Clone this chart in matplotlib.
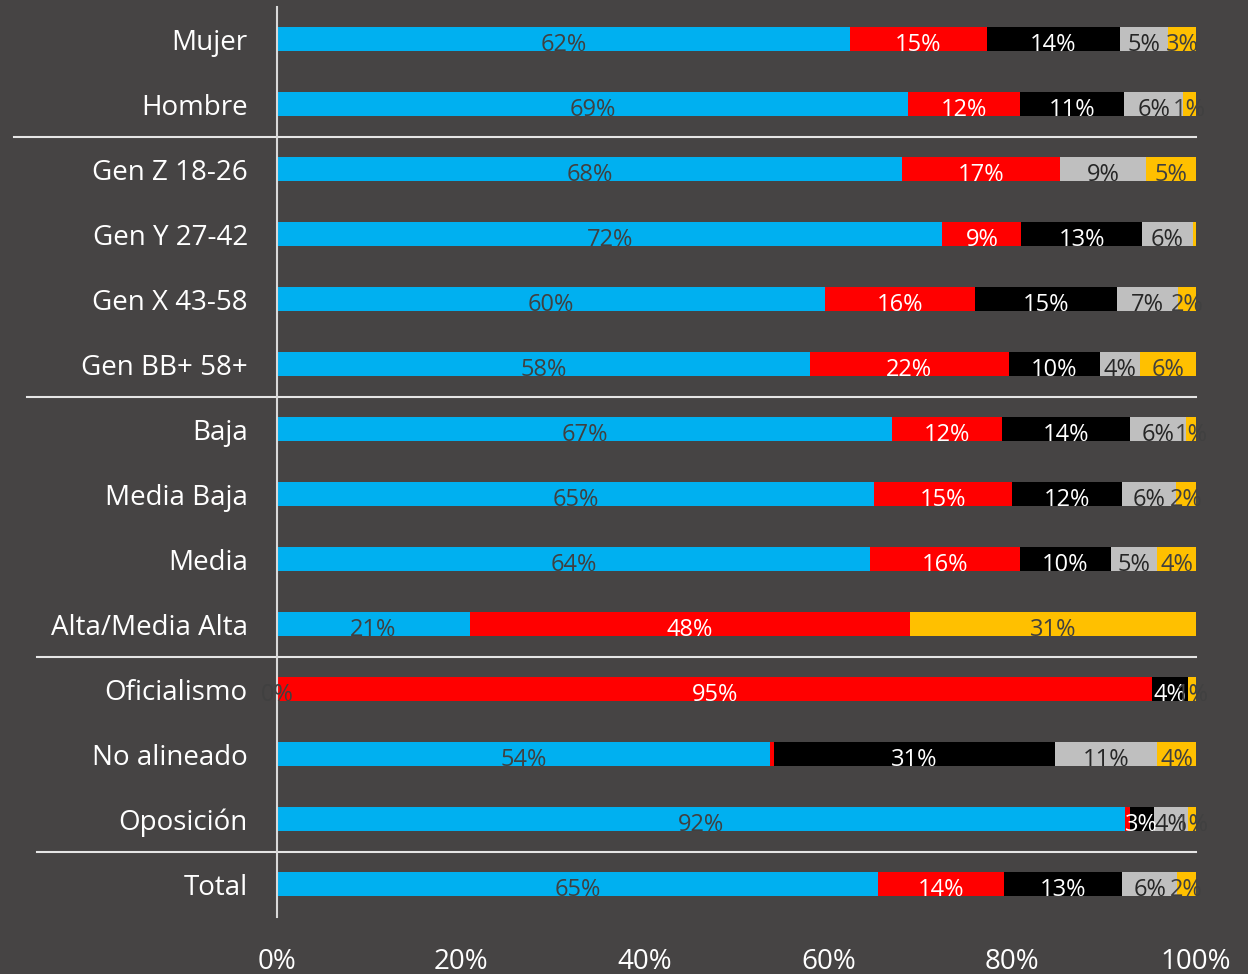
import matplotlib
matplotlib.use("Agg")
import matplotlib.pyplot as plt
import numpy as np

categories = ["Mujer", "Hombre", "Gen Z 18-26", "Gen Y 27-42", "Gen X 43-58",
              "Gen BB+ 58+", "Baja", "Media Baja", "Media", "Alta/Media Alta",
              "Oficialismo", "No alineado", "Oposición", "Total"]

blue   = [62.3, 68.7, 68.0, 72.4, 59.6, 58.0, 66.9, 65.0, 64.5, 21.0, 0.1, 53.6, 92.3, 65.4]
red    = [15.0, 12.2, 17.2,  8.6, 16.4, 21.6, 12.0, 15.0, 16.3, 47.9, 95.1, 0.45, 0.5, 13.7]
black  = [14.4, 11.3,  0.0, 13.1, 15.4, 10.0, 13.9, 12.0, 10.0,  0.0,  3.9, 30.6, 2.6, 12.9]
gray   = [ 5.3,  6.4,  9.4,  5.6,  6.6,  4.3,  6.1,  5.8,  5.0,  0.0,  0.0, 11.1, 3.7,  5.9]
yellow = [ 3.0,  1.4,  5.4,  0.3,  2.0,  6.1,  1.1,  2.2,  4.2, 31.1,  0.9,  4.3, 0.9,  2.1]

xticks = [0, 20, 40, 60, 80, 100]
xtick_labels = ["0%", "20%", "40%", "60%", "80%", "100%"]

# labels not displayed in the original (row, series index)
hidden_labels = {(3, 4), (11, 1), (12, 1)}

series = [blue, red, black, gray, yellow]
colors = ["#00B0F0", "#FF0000", "#000000", "#BFBFBF", "#FFC000"]
label_colors = ["#404040", "#FFFFFF", "#FFFFFF", "#262626", "#404040"]

bg = "#464444"
plt.rcParams['font.family'] = ['Open Sans', 'DejaVu Sans']

fig = plt.figure(figsize=(12.48, 9.74), dpi=100, facecolor=bg)
ax = fig.add_axes([277/1248, 1 - 916.5/974, 919/1248, 910/974])
ax.set_facecolor(bg)

y = np.arange(len(categories))
left = np.zeros(len(categories))
for si, (vals, col) in enumerate(zip(series, colors)):
    vals = np.array(vals)
    ax.barh(y, vals, left=left, height=0.37, color=col, edgecolor='none')
    for i, v in enumerate(vals):
        if v <= 0 or (i, si) in hidden_labels:
            continue
        ax.text(left[i] + v / 2, y[i] + 0.09, f"{v:.0f}%", ha='center', va='center',
                fontsize=17, color=label_colors[si])
    left = left + vals

ax.set_xlim(0, 100)
ax.set_ylim(len(categories) - 0.5, -0.5)
ax.set_yticks(y)
ax.set_yticklabels(categories, fontsize=20, color='white')
ax.set_xticks(xticks)
ax.set_xticklabels(xtick_labels, fontsize=20, color='white')
ax.tick_params(axis='both', length=0)
ax.tick_params(axis='y', pad=21)
ax.tick_params(axis='x', pad=23)

for s in ['top', 'right', 'bottom']:
    ax.spines[s].set_visible(False)
ax.spines['left'].set_color('#D9D9D9')
ax.spines['left'].set_linewidth(1.5)

trans = ax.get_yaxis_transform()
seps = [(1.5, 14), (5.5, 27), (9.5, 37), (12.5, 37)]
for yy, xp in seps:
    x0 = (xp - 277) / 919
    ax.plot([x0, 1.0], [yy, yy], transform=trans, color='#E6E6E6', lw=1.5,
            clip_on=False)

fig.savefig("out.png", dpi=100, facecolor=bg)
